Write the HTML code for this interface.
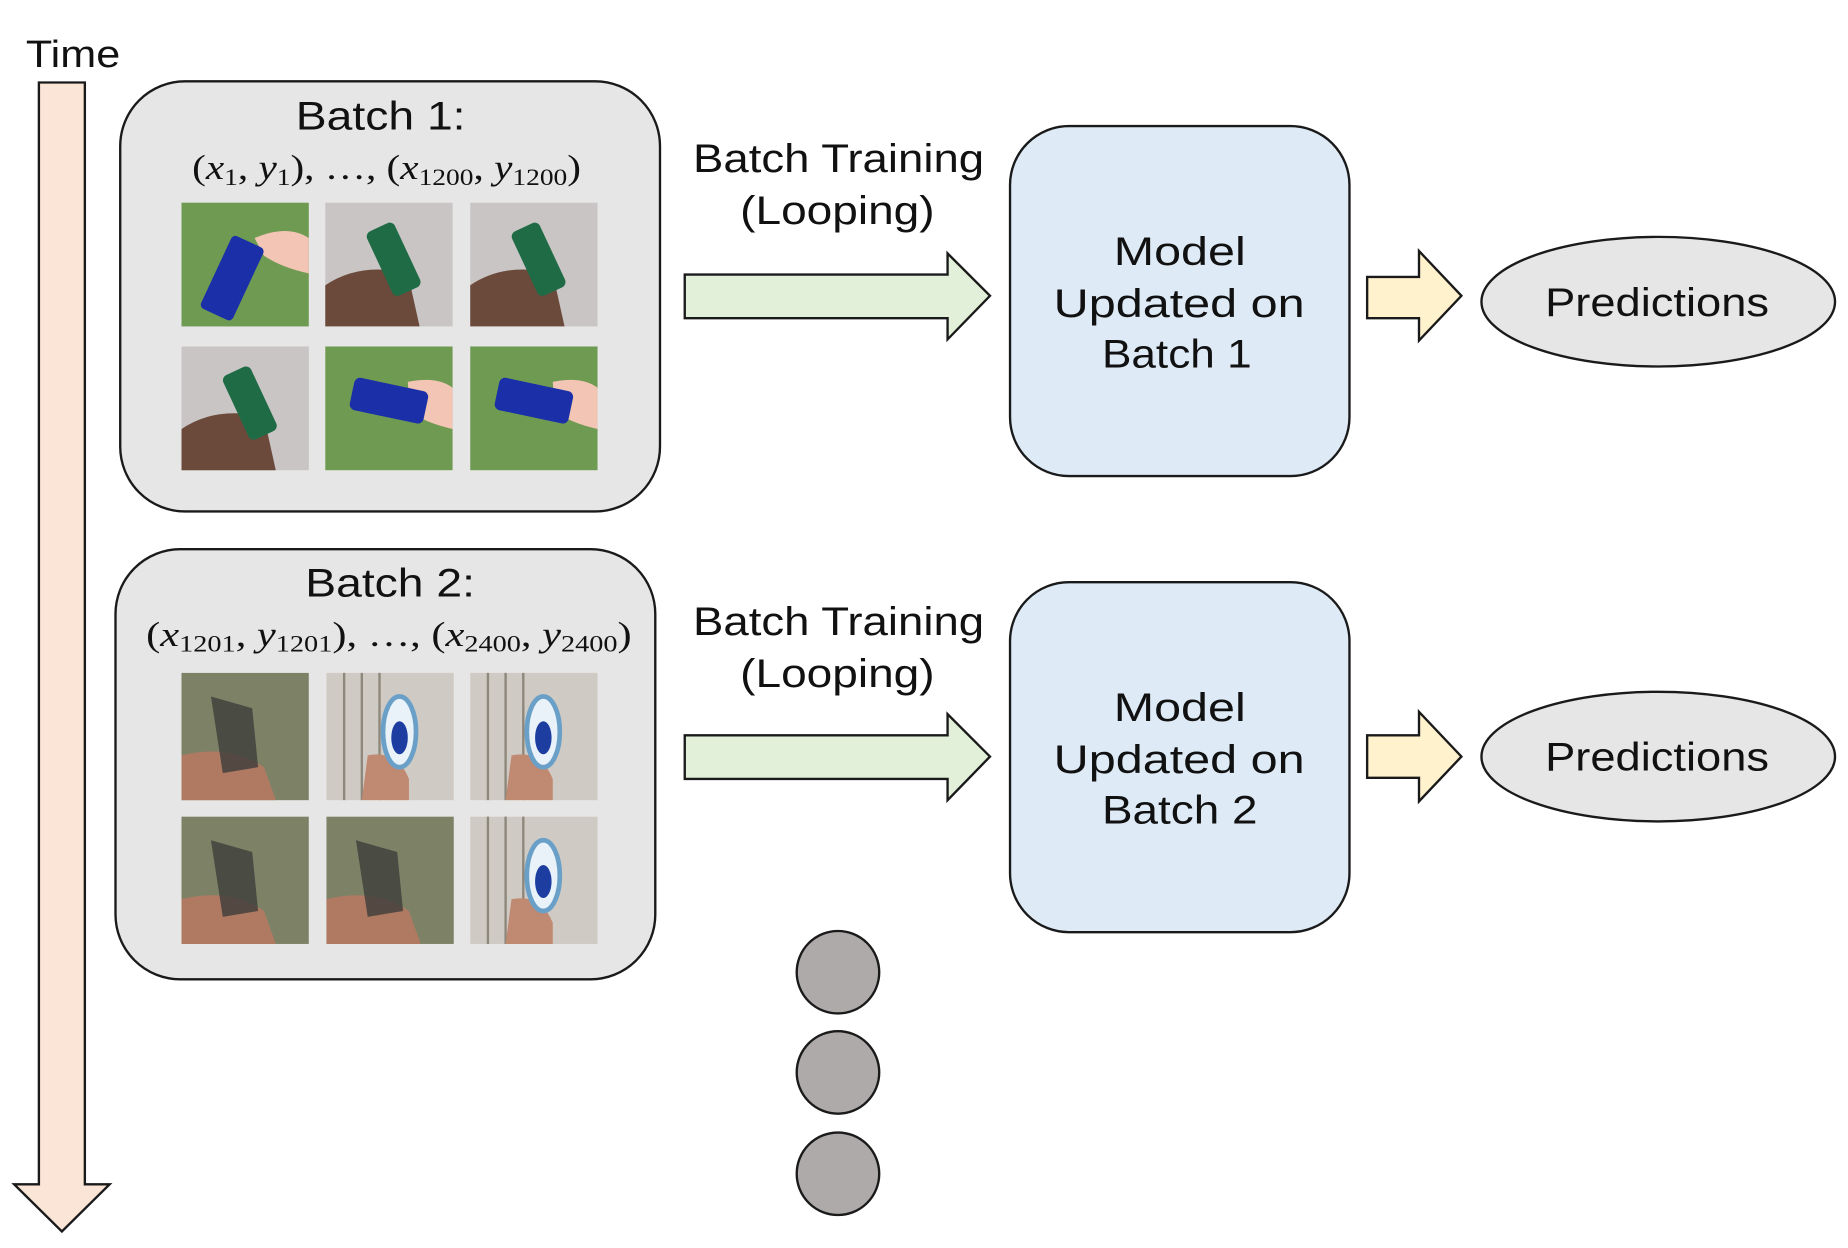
<!DOCTYPE html>
<html><head><meta charset="utf-8"><style>html,body{margin:0;padding:0;background:#fff}svg{display:block}</style></head>
<body>
<svg width="1848" height="1248" viewBox="0 0 1568 1059" preserveAspectRatio="none" xmlns="http://www.w3.org/2000/svg" font-family="'Liberation Sans', 'DejaVu Sans', sans-serif">
<defs>
<g id="grassCan">
<rect width="108" height="105" fill="#6f9a52"/>
<path d="M62 30 Q90 18 108 30 L108 60 Q85 55 70 45 Z" fill="#f2c5b5"/>
<rect x="28" y="30" width="30" height="68" rx="4" fill="#1a2fa8" transform="rotate(25 43 64)"/>
</g>
<g id="wallCan">
<rect width="108" height="105" fill="#c8c5c4"/>
<path d="M0 105 L0 70 Q30 50 70 60 L80 105 Z" fill="#6b4a3c"/>
<rect x="45" y="18" width="26" height="60" rx="5" fill="#1f6b45" transform="rotate(-25 58 48)"/>
</g>
<g id="grassCan2">
<rect width="108" height="105" fill="#6f9a52"/>
<path d="M70 30 Q95 25 108 35 L108 70 Q85 65 72 55 Z" fill="#f2c5b5"/>
<rect x="22" y="32" width="64" height="28" rx="5" fill="#1a2fa8" transform="rotate(12 54 46)"/>
</g>
<g id="glassGrass">
<rect width="108" height="108" fill="#7d8266"/>
<path d="M0 108 L0 70 Q40 60 70 80 L80 108 Z" fill="#b07a62"/>
<path d="M25 20 L60 30 L65 80 L35 85 Z" fill="#3d3d3b" opacity="0.8"/>
</g>
<g id="glassWall">
<rect width="108" height="108" fill="#cfcbc4"/>
<g stroke="#8d877c" stroke-width="2"><line x1="15" y1="0" x2="15" y2="108"/><line x1="30" y1="0" x2="30" y2="108"/><line x1="45" y1="0" x2="45" y2="108"/></g>
<path d="M30 108 L35 70 Q60 65 70 90 L70 108 Z" fill="#c08a72"/>
<ellipse cx="62" cy="50" rx="14" ry="30" fill="#e8f2f8" stroke="#6aa0c8" stroke-width="4"/>
<ellipse cx="62" cy="55" rx="7" ry="14" fill="#1d3ea0"/>
</g>
</defs>

<text x="22" y="57" font-size="32" textLength="80" lengthAdjust="spacingAndGlyphs" fill="#111">Time</text>
<path d="M33 70 L72 70 L72 1005 L93 1005 L52.5 1045 L12 1005 L33 1005 Z" fill="#fbe5d6" stroke="#1a1a1a" stroke-width="2"/>

<!-- Batch 1 -->
<rect x="102" y="69" width="458" height="365" rx="55" fill="#e7e6e6" stroke="#1a1a1a" stroke-width="2"/>
<text x="251" y="110" font-size="34" textLength="144" lengthAdjust="spacingAndGlyphs" fill="#111">Batch 1:</text>
<text x="163" y="152" font-size="30" textLength="330" lengthAdjust="spacingAndGlyphs" fill="#111" font-family="'Liberation Serif', serif">(<tspan font-style="italic">x</tspan><tspan font-size="20" dy="5">1</tspan><tspan dy="-5">, </tspan><tspan font-style="italic">y</tspan><tspan font-size="20" dy="5">1</tspan><tspan dy="-5">), …, (</tspan><tspan font-style="italic">x</tspan><tspan font-size="20" dy="5">1200</tspan><tspan dy="-5">, </tspan><tspan font-style="italic">y</tspan><tspan font-size="20" dy="5">1200</tspan><tspan dy="-5">)</tspan></text>
<use href="#grassCan" x="154" y="172"/>
<use href="#wallCan" x="276" y="172"/>
<use href="#wallCan" x="399" y="172"/>
<use href="#wallCan" x="154" y="294"/>
<use href="#grassCan2" x="276" y="294"/>
<use href="#grassCan2" x="399" y="294"/>

<!-- Batch 2 -->
<rect x="98" y="466" width="458" height="365" rx="55" fill="#e7e6e6" stroke="#1a1a1a" stroke-width="2"/>
<text x="259" y="506" font-size="34" textLength="144" lengthAdjust="spacingAndGlyphs" fill="#111">Batch 2:</text>
<text x="124" y="548" font-size="30" textLength="412" lengthAdjust="spacingAndGlyphs" fill="#111" font-family="'Liberation Serif', serif">(<tspan font-style="italic">x</tspan><tspan font-size="20" dy="5">1201</tspan><tspan dy="-5">, </tspan><tspan font-style="italic">y</tspan><tspan font-size="20" dy="5">1201</tspan><tspan dy="-5">), …, (</tspan><tspan font-style="italic">x</tspan><tspan font-size="20" dy="5">2400</tspan><tspan dy="-5">, </tspan><tspan font-style="italic">y</tspan><tspan font-size="20" dy="5">2400</tspan><tspan dy="-5">)</tspan></text>
<use href="#glassGrass" x="154" y="571"/>
<use href="#glassWall" x="277" y="571"/>
<use href="#glassWall" x="399" y="571"/>
<use href="#glassGrass" x="154" y="693"/>
<use href="#glassGrass" x="277" y="693"/>
<use href="#glassWall" x="399" y="693"/>

<!-- Row 1 -->
<text x="588" y="146" font-size="34" textLength="247" lengthAdjust="spacingAndGlyphs" fill="#111">Batch Training</text>
<text x="628" y="190" font-size="34" textLength="165" lengthAdjust="spacingAndGlyphs" fill="#111">(Looping)</text>
<path d="M581 233 L804 233 L804 215 L840 251 L804 288 L804 270 L581 270 Z" fill="#e2f0d9" stroke="#1a1a1a" stroke-width="2"/>
<rect x="857" y="107" width="288" height="297" rx="50" fill="#deebf7" stroke="#1a1a1a" stroke-width="2"/>
<text x="945" y="225" font-size="34" textLength="112" lengthAdjust="spacingAndGlyphs" fill="#111">Model</text>
<text x="894" y="269" font-size="34" textLength="213" lengthAdjust="spacingAndGlyphs" fill="#111">Updated on</text>
<text x="935" y="312" font-size="34" textLength="127" lengthAdjust="spacingAndGlyphs" fill="#111">Batch 1</text>
<path d="M1160 235 L1204 235 L1204 213 L1240 251 L1204 289 L1204 270 L1160 270 Z" fill="#fff2cc" stroke="#1a1a1a" stroke-width="2"/>
<ellipse cx="1407" cy="256" rx="150" ry="55" fill="#e7e6e6" stroke="#1a1a1a" stroke-width="2"/>
<text x="1311" y="268" font-size="34" textLength="190" lengthAdjust="spacingAndGlyphs" fill="#111">Predictions</text>

<!-- Row 2 -->
<text x="588" y="539" font-size="34" textLength="247" lengthAdjust="spacingAndGlyphs" fill="#111">Batch Training</text>
<text x="628" y="583" font-size="34" textLength="165" lengthAdjust="spacingAndGlyphs" fill="#111">(Looping)</text>
<path d="M581 624 L804 624 L804 606 L840 642 L804 679 L804 661 L581 661 Z" fill="#e2f0d9" stroke="#1a1a1a" stroke-width="2"/>
<rect x="857" y="494" width="288" height="297" rx="50" fill="#deebf7" stroke="#1a1a1a" stroke-width="2"/>
<text x="945" y="612" font-size="34" textLength="112" lengthAdjust="spacingAndGlyphs" fill="#111">Model</text>
<text x="894" y="656" font-size="34" textLength="213" lengthAdjust="spacingAndGlyphs" fill="#111">Updated on</text>
<text x="935" y="699" font-size="34" textLength="132" lengthAdjust="spacingAndGlyphs" fill="#111">Batch 2</text>
<path d="M1160 624 L1204 624 L1204 604 L1240 642 L1204 680 L1204 660 L1160 660 Z" fill="#fff2cc" stroke="#1a1a1a" stroke-width="2"/>
<ellipse cx="1407" cy="642" rx="150" ry="55" fill="#e7e6e6" stroke="#1a1a1a" stroke-width="2"/>
<text x="1311" y="654" font-size="34" textLength="190" lengthAdjust="spacingAndGlyphs" fill="#111">Predictions</text>

<circle cx="711" cy="825" r="35" fill="#aeaaaa" stroke="#1a1a1a" stroke-width="2"/>
<circle cx="711" cy="910" r="35" fill="#aeaaaa" stroke="#1a1a1a" stroke-width="2"/>
<circle cx="711" cy="996" r="35" fill="#aeaaaa" stroke="#1a1a1a" stroke-width="2"/>
</svg>
</body></html>
